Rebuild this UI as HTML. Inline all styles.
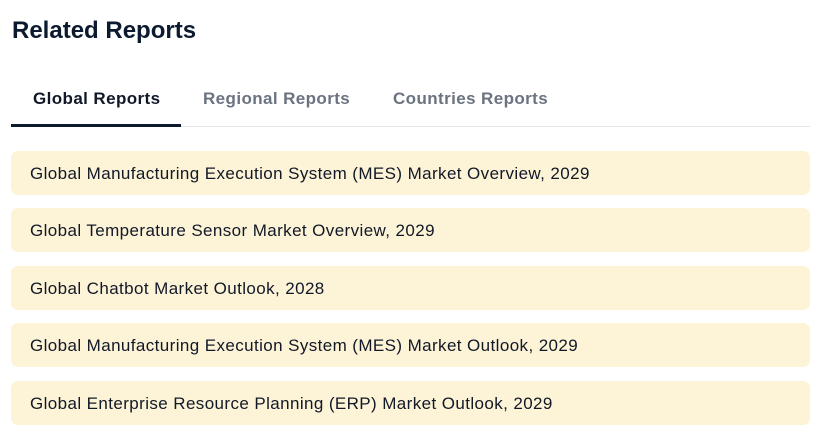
<!DOCTYPE html>
<html><head><meta charset="utf-8"><style>
body{margin:0;width:840px;height:444px;background:#fff;font-family:"Liberation Sans",sans-serif;position:relative;overflow:hidden}
h2{position:absolute;left:12px;top:17px;margin:0;font-size:24px;font-weight:bold;color:#0c1a30}
.tabs{position:absolute;left:11px;top:80px;width:799px;height:46px;border-bottom:1px solid #e6e6e6}
.tab{position:absolute;top:9px;font-size:17px;letter-spacing:0.4px;font-weight:bold;color:#6b7280}
.tab.active{color:#111827}
.ul{position:absolute;left:0;top:44px;width:170px;height:3px;background:#0c1a30}
.card{position:absolute;left:11px;width:799px;height:44px;background:#fdf3d6;border-radius:7px;font-size:17px;letter-spacing:0.4px;color:#111827;line-height:46px;box-sizing:border-box;padding-left:19px}
</style></head><body>
<h2>Related Reports</h2>
<div class="tabs">
<div class="tab active" style="left:22px">Global Reports</div>
<div class="tab" style="left:192px">Regional Reports</div>
<div class="tab" style="left:382px">Countries Reports</div>
<div class="ul"></div>
</div>
<div class="card" style="top:151px">Global Manufacturing Execution System (MES) Market Overview, 2029</div>
<div class="card" style="top:208px">Global Temperature Sensor Market Overview, 2029</div>
<div class="card" style="top:266px">Global Chatbot Market Outlook, 2028</div>
<div class="card" style="top:323px">Global Manufacturing Execution System (MES) Market Outlook, 2029</div>
<div class="card" style="top:381px">Global Enterprise Resource Planning (ERP) Market Outlook, 2029</div>
</body></html>
